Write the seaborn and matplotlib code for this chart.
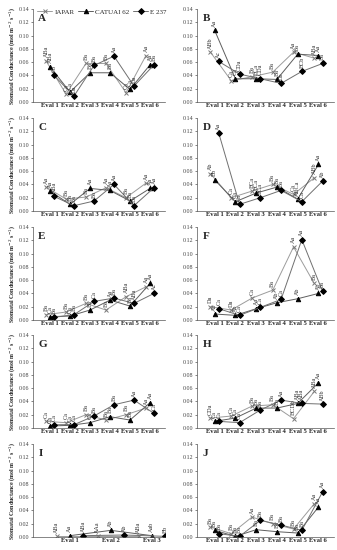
import matplotlib
matplotlib.use("Agg")
import matplotlib.pyplot as plt
import pandas as pd
import seaborn as sns

# cultivars
cultivars = ["IAPAR", "CATUAI 62", "E 237"]
evals6 = ["Eval 1", "Eval 2", "Eval 3", "Eval 4", "Eval 5", "Eval 6"]
evals3 = ["Eval 1", "Eval 2", "Eval 3"]

# stomatal conductance per panel: IAPAR, CATUAI 62, E 237
A_iapar = [0.062, 0.012, 0.058, 0.058, 0.014, 0.070]
A_catuai = [0.053, 0.015, 0.044, 0.044, 0.019, 0.056]
A_e237 = [0.040, 0.009, 0.055, 0.069, 0.024, 0.056]

B_iapar = [0.075, 0.032, 0.038, 0.045, 0.075, 0.066]
B_catuai = [0.108, 0.035, 0.035, 0.034, 0.072, 0.070]
B_e237 = [0.061, 0.042, 0.035, 0.028, 0.046, 0.058]

C_iapar = [0.036, 0.018, 0.021, 0.035, 0.020, 0.042]
C_catuai = [0.030, 0.010, 0.034, 0.031, 0.015, 0.034]
C_e237 = [0.022, 0.008, 0.015, 0.040, 0.008, 0.035]

D_iapar = [0.056, 0.020, 0.030, 0.040, 0.025, 0.050]
D_catuai = [0.047, 0.014, 0.027, 0.036, 0.018, 0.070]
D_e237 = [0.117, 0.010, 0.020, 0.031, 0.014, 0.045]

E_iapar = [0.008, 0.012, 0.025, 0.015, 0.035, 0.050]
E_catuai = [0.005, 0.006, 0.015, 0.030, 0.021, 0.055]
E_e237 = [0.004, 0.008, 0.028, 0.033, 0.025, 0.040]

F_iapar = [0.020, 0.015, 0.033, 0.045, 0.110, 0.055]
F_catuai = [0.009, 0.007, 0.017, 0.026, 0.032, 0.040]
F_e237 = [0.017, 0.007, 0.019, 0.031, 0.121, 0.043]

G_iapar = [0.010, 0.008, 0.020, 0.012, 0.020, 0.030]
G_catuai = [0.003, 0.004, 0.008, 0.017, 0.012, 0.038]
G_e237 = [0.005, 0.005, 0.018, 0.035, 0.042, 0.022]

H_iapar = [0.015, 0.018, 0.033, 0.035, 0.014, 0.055]
H_catuai = [0.010, 0.015, 0.030, 0.030, 0.037, 0.068]
H_e237 = [0.010, 0.008, 0.027, 0.042, 0.037, 0.036]

I_iapar = [0.001, 0.001, 0.001]
I_catuai = [0.002, 0.010, 0.002]
I_e237 = [0.002, 0.003, 0.001]

J_iapar = [0.015, 0.005, 0.030, 0.020, 0.012, 0.050]
J_catuai = [0.010, 0.001, 0.011, 0.008, 0.006, 0.045]
J_e237 = [0.005, 0.001, 0.025, 0.018, 0.010, 0.068]

# significance letters above the points
A_lab = [["ABa", "Ca", "Ba", "Ba", "Ca", "Aa"], ["ABa", "Ca", "Ba", "Ba", "Ca", "Aa"], ["Cb", "Da", "Ba", "Aa", "Da", "Ba"]]
B_lab = [["ABb", "Ca", "Ba", "Ba", "Aa", "ABa"], ["Aa", "Ca", "BCa", "Ba", "Ba", "Aa"], ["Ac", "CDa", "CDa", "Db", "BCb", "Ba"]]
C_lab = [["Aa", "Ba", "Ba", "Aa", "Ba", "Aa"], ["Aa", "Ba", "Aa", "Aa", "Ba", "Aa"], ["ABa", "Ba", "Ba", "Aa", "Ba", "Aa"]]
D_lab = [["Ab", "Ca", "BCa", "Ba", "Ca", "ABb"], ["Bb", "Ca", "BCa", "Ba", "ABCa", "Aa"], ["Aa", "Ca", "BCa", "Ba", "Ca", "Ab"]]
E_lab = [["Ba", "Ba", "Ba", "Ba", "ABa", "Aa"], ["Ca", "Ca", "Ba", "Aa", "Ba", "Aa"], ["Ba", "Ba", "Ca", "Ba", "ABa", "Ac"]]
F_lab = [["Da", "Da", "Ca", "Ba", "Aa", "Ba"], ["Ab", "Ab", "Aa", "Ab", "Ab", "Ab"], ["Ca", "Ca", "Ca", "Ca", "Aa", "Ba"]]
G_lab = [["Ca", "Ca", "Ba", "Ba", "Ba", "Aa"], ["Ca", "Ca", "Ca", "Ba", "Ba", "Aa"], ["Ca", "Ca", "Ba", "Ba", "Aa", "Ca"]]
H_lab = [["CDa", "Ca", "Ba", "Ba", "BCDb", "ABa"], ["Ca", "Ca", "Ba", "Ba", "ABa", "Aa"], ["Ca", "Ca", "Ba", "Aa", "ABa", "ABb"]]
I_lab = [["ABa", "AAa", "ABa"], ["Aa", "Ab", "Aab"], ["ABa", "Ab", "Bb"]]
J_lab = [["Ba", "Ba", "Aa", "Ba", "Ba", "Aa"], ["Ba", "Ba", "Ba", "Ba", "Ba", "Aa"], ["Ba", "Ba", "Ba", "Ba", "Ba", "Aa"]]

panels = [
    ("A", evals6, [A_iapar, A_catuai, A_e237], A_lab),
    ("B", evals6, [B_iapar, B_catuai, B_e237], B_lab),
    ("C", evals6, [C_iapar, C_catuai, C_e237], C_lab),
    ("D", evals6, [D_iapar, D_catuai, D_e237], D_lab),
    ("E", evals6, [E_iapar, E_catuai, E_e237], E_lab),
    ("F", evals6, [F_iapar, F_catuai, F_e237], F_lab),
    ("G", evals6, [G_iapar, G_catuai, G_e237], G_lab),
    ("H", evals6, [H_iapar, H_catuai, H_e237], H_lab),
    ("I", evals3, [I_iapar, I_catuai, I_e237], I_lab),
    ("J", evals6, [J_iapar, J_catuai, J_e237], J_lab),
]

sns.set_style("ticks")
plt.rcParams['font.family'] = ['Liberation Serif', 'DejaVu Serif']

styles = {
    "IAPAR": dict(line="#9c9c9c", marker="x", mfc="#7a7a7a", mec="#7a7a7a", ms=3.2),
    "CATUAI 62": dict(line="#5e5e5e", marker="^", mfc="black", mec="black", ms=3.2),
    "E 237": dict(line="#707070", marker="D", mfc="black", mec="black", ms=3.0),
}
offsets = [-0.2, 0.0, 0.2]

fig = plt.figure(figsize=(3.37, 5.5), dpi=100)
W, H = 337.0, 550.0
tops = [9, 118, 227, 335, 444]
ph = 93

for k, (letter, evals, series, labels) in enumerate(panels):
    row, col = divmod(k, 2)
    if col == 0:
        x0, w = 33, 132
    else:
        x0, w = 197, 137
    ax = fig.add_axes([x0 / W, 1 - (tops[row] + ph) / H, w / W, ph / H])

    n = len(evals)
    for i, name in enumerate(cultivars):
        st = styles[name]
        df = pd.DataFrame({"pos": [j + offsets[i] * (1 if n == 6 else 1.6) for j in range(n)],
                           "gs": series[i]})
        sns.lineplot(data=df, x="pos", y="gs", ax=ax, color=st["line"], lw=0.7,
                     marker=st["marker"], markersize=st["ms"], markerfacecolor=st["mfc"],
                     markeredgecolor=st["mec"], markeredgewidth=0.7, label=name,
                     legend=False, sort=False)
        for j in range(n):
            ax.annotate(labels[i][j], (df["pos"][j], series[i][j]), xytext=(0, 2.5),
                        textcoords="offset points", rotation=90, ha="center", va="bottom",
                        fontsize=4.4, color="#333333")

    ax.set_ylim(0, 0.14)
    if n == 6:
        ax.set_xlim(-0.85, 5.75)
    else:
        ax.set_xlim(-0.9, 2.32)
    ax.set_xticks(range(n))
    ax.set_xticklabels(evals, fontsize=4.8, fontweight="bold")
    ax.set_yticks([0, 0.02, 0.04, 0.06, 0.08, 0.10, 0.12, 0.14])
    ax.set_yticklabels(["%.2f" % v for v in ax.get_yticks()], fontsize=4.3, color="#444444")
    ax.tick_params(axis="x", length=0, pad=1)
    ax.tick_params(axis="y", length=1.5, width=0.4, pad=1)
    for s in ["left", "bottom"]:
        ax.spines[s].set_linewidth(0.5)
        ax.spines[s].set_color("#555555")
    sns.despine(ax=ax)
    ax.set_xlabel("")
    if col == 0:
        ax.set_ylabel("Stomatal Conductance (mol m$^{-2}$ s$^{-1}$)", fontsize=4.3,
                      fontweight="bold", labelpad=1.5)
    else:
        ax.set_ylabel("")
    ax.text(0.04, 0.95, letter, transform=ax.transAxes, fontsize=8, fontweight="bold",
            va="top", ha="left")
    if letter == "A":
        h, l = ax.get_legend_handles_labels()
        ax.legend(h, l, ncol=3, loc="upper right", bbox_to_anchor=(1.04, 1.04), frameon=False,
                  fontsize=5, handlelength=2.2, columnspacing=0.5, handletextpad=0.3,
                  borderaxespad=0.1)

fig.savefig("out.png", dpi=100)
